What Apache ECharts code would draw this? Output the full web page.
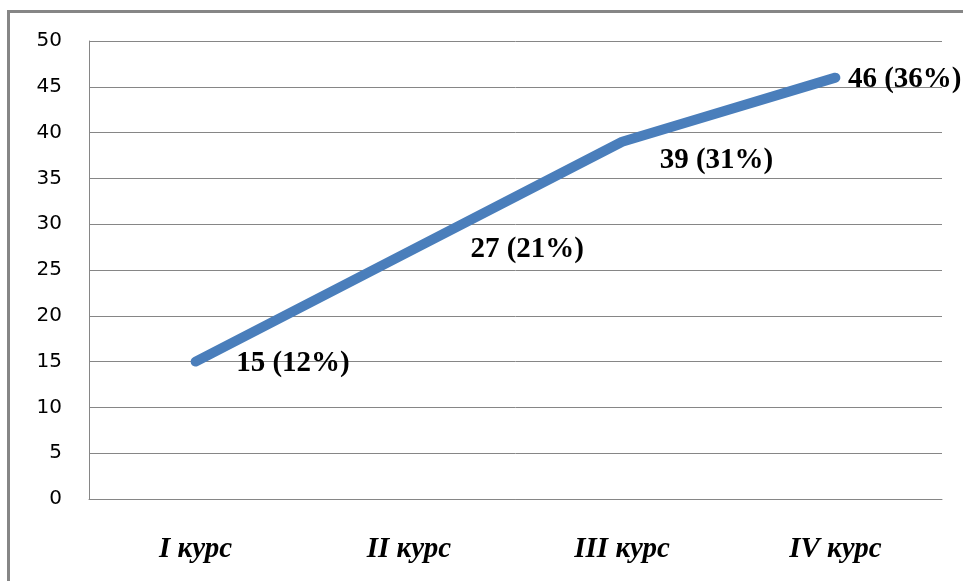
<!DOCTYPE html>
<html>
<head>
<meta charset="utf-8">
<script src="https://cdn.jsdelivr.net/npm/echarts@6/dist/echarts.min.js"></script>
<style>
  html, body { margin: 0; padding: 0; background: #fff; }
  #chart { width: 963px; height: 581px; }
</style>
</head>
<body>
<div id="chart"></div>
<script>
// Students per year of study
const courses = ['I курс', 'II курс', 'III курс', 'IV курс'];
const students = [15, 27, 39, 46];
const shares = [12, 21, 31, 36];
const yTicks = [0, 5, 10, 15, 20, 25, 30, 35, 40, 45, 50];

// nudges for each value label, in pixels from the default right-side spot
const labelNudge = [[35, 2], [56, -2], [32, 19], [7, 2]];

const chart = echarts.init(document.getElementById('chart'), null, { renderer: 'canvas' });

const seriesData = students.map((v, i) => ({
  value: v,
  label: { offset: labelNudge[i] }
}));

chart.setOption({
  animation: false,
  backgroundColor: '#ffffff',
  graphic: [{
    type: 'rect',
    shape: { x: 8.5, y: 11.5, width: 1000, height: 700 },
    style: { fill: 'none', stroke: '#868686', lineWidth: 3 },
    silent: true
  }],
  grid: { left: 89, right: 21, top: 41, bottom: 82 },
  xAxis: {
    type: 'category',
    data: courses,
    boundaryGap: true,
    axisLine: { show: true, lineStyle: { color: '#868686', width: 1 } },
    axisTick: { show: false },
    axisLabel: {
      margin: 36,
      fontFamily: 'Liberation Serif',
      fontStyle: 'italic',
      fontWeight: 'bold',
      fontSize: 29,
      color: '#000'
    }
  },
  yAxis: {
    type: 'value',
    min: yTicks[0],
    max: yTicks[yTicks.length - 1],
    interval: 5,
    axisLine: { show: true, lineStyle: { color: '#868686', width: 1 } },
    axisTick: { show: false },
    splitLine: { show: true, lineStyle: { color: '#868686', width: 1 } },
    axisLabel: {
      margin: 27,
      fontFamily: 'DejaVu Sans',
      fontSize: 20,
      color: '#000'
    }
  },
  series: [{
    type: 'line',
    data: seriesData,
    showSymbol: true,
    symbol: 'circle',
    symbolSize: 1,
    itemStyle: { color: '#4a7ebb' },
    lineStyle: { color: '#4a7ebb', width: 10, cap: 'round', join: 'round' },
    label: {
      show: true,
      position: 'right',
      distance: 5,
      fontFamily: 'Liberation Serif',
      fontWeight: 'bold',
      fontSize: 29,
      color: '#000',
      formatter: p => p.value + ' (' + shares[p.dataIndex] + '%)'
    }
  }]
});
</script>
</body>
</html>
